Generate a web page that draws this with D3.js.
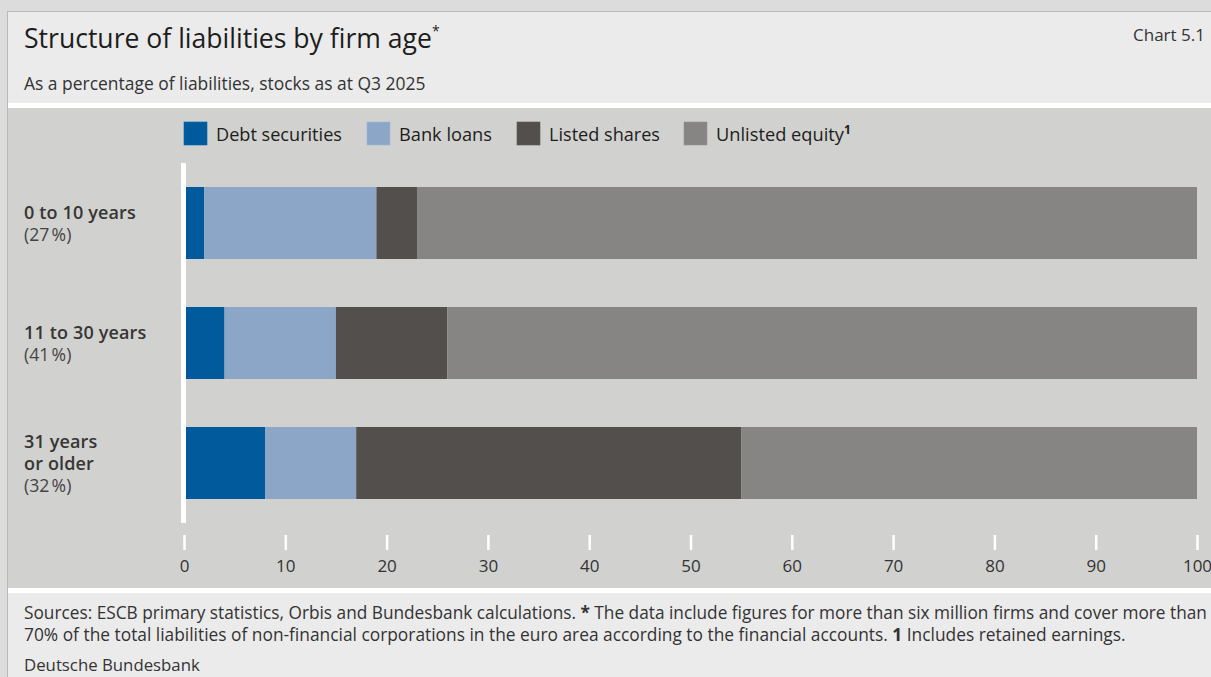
<!DOCTYPE html>
<html>
<head>
<meta charset="utf-8">
<script src="https://cdn.jsdelivr.net/npm/d3@7"></script>
<style>
  html, body { margin: 0; padding: 0; background: #dcdcdc; }
  svg { display: block; font-family: "Open Sans", "Noto Sans", sans-serif; }
</style>
</head>
<body>
<svg id="chart" width="1211" height="677"></svg>
<script>
// Age groups and their share of total liabilities
const categories = ["0 to 10 years", "11 to 30 years", "31 years or older"];
const categoryLines = [["0 to 10 years"], ["11 to 30 years"], ["31 years", "or older"]];
const categoryShares = ["(27\u202F%)", "(41\u202F%)", "(32\u202F%)"];

// Liability components, % of each group's liabilities
const seriesNames = ["Debt securities", "Bank loans", "Listed shares", "Unlisted equity"];
const debtSecurities = [2, 4, 8];
const bankLoans = [17, 11, 9];
const listedShares = [4, 11, 38];
const unlistedEquity = [77, 74, 45];

const tickValues = [0, 10, 20, 30, 40, 50, 60, 70, 80, 90, 100];
const colors = ["#005a9b", "#8ca6c8", "#524f4c", "#868583"];

const svg = d3.select("#chart");
const W = 1211, H = 677;

// Scale a text's font size so that it spans the given width
function fitWidth(sel, target) {
  const node = sel.node();
  const w = node.getComputedTextLength();
  const fs = parseFloat(sel.attr("font-size"));
  if (w > 0) sel.attr("font-size", (fs * target / w).toFixed(2));
  return sel;
}

// Panel backgrounds
svg.append("rect").attr("x", 0).attr("y", 0).attr("width", W).attr("height", H).attr("fill", "#dcdcdc");
svg.append("rect").attr("x", 7.5).attr("y", 11.5).attr("width", W).attr("height", H)
  .attr("fill", "#ebebeb").attr("stroke", "#b9b9b9").attr("stroke-width", 1);
svg.append("rect").attr("x", 8).attr("y", 103).attr("width", W).attr("height", 490).attr("fill", "#ffffff");
svg.append("rect").attr("x", 8).attr("y", 108).attr("width", W).attr("height", 480).attr("fill", "#d1d1cf");

// Title block
const title = svg.append("text").attr("x", 24).attr("y", 48)
  .attr("fill", "#1d1d1b").attr("font-size", 25);
title.append("tspan").text("Structure of liabilities by firm age");
fitWidth(title, 408);
title.append("tspan").attr("dy", -12).attr("font-size", 14).text("*");

fitWidth(svg.append("text").attr("x", 1205).attr("y", 41).attr("text-anchor", "end")
  .attr("fill", "#333").attr("font-size", 17).text("Chart 5.1"), 72);
fitWidth(svg.append("text").attr("x", 24).attr("y", 90).attr("fill", "#333")
  .attr("font-size", 17).text("As a percentage of liabilities, stocks as at Q3 2025"), 402);

// Scales
const x = d3.scaleLinear().domain([0, 100]).range([184, 1197]);
const y = d3.scaleBand().domain(categories).range([163, 523]).paddingInner(0.4).paddingOuter(0.2);

// Stack data
const rows = categories.map((c, i) => ({
  category: c,
  "Debt securities": debtSecurities[i],
  "Bank loans": bankLoans[i],
  "Listed shares": listedShares[i],
  "Unlisted equity": unlistedEquity[i]
}));
const stacked = d3.stack().keys(seriesNames)(rows);

const layers = svg.append("g").selectAll("g").data(stacked).join("g")
  .attr("fill", (d, i) => colors[i]);
layers.selectAll("rect").data(d => d).join("rect")
  .attr("x", d => x(d[0]))
  .attr("width", d => x(d[1]) - x(d[0]))
  .attr("y", d => y(d.data.category))
  .attr("height", y.bandwidth());

// Vertical baseline at zero
svg.append("rect").attr("x", 181).attr("y", 163).attr("width", 5).attr("height", 360).attr("fill", "#ffffff");

// Category labels: name in medium weight, share below in regular
const labelSize = 18;
categories.forEach((c, i) => {
  const lines = categoryLines[i];
  const center = y(c) + y.bandwidth() / 2;
  const n = lines.length + 1;
  const lh = 22;
  const first = center - (n - 1) * lh / 2 + 7;
  lines.forEach((l, k) => {
    svg.append("text").attr("x", 24).attr("y", first + k * lh)
      .attr("font-size", labelSize).attr("font-weight", 600).attr("fill", "#363634")
      .attr("letter-spacing", 0.15).text(l);
  });
  svg.append("text").attr("x", 24).attr("y", first + lines.length * lh)
    .attr("font-size", 17.6).attr("font-weight", 400).attr("fill", "#444")
    .text(categoryShares[i]);
});

// X axis
const axis = d3.axisBottom(x).tickValues(tickValues).tickSize(15).tickPadding(10).tickFormat(d3.format("d"));
const ax = svg.append("g").attr("transform", "translate(0,535)").call(axis);
ax.select(".domain").remove();
ax.selectAll(".tick line").attr("stroke", "#ffffff").attr("stroke-width", 2.5);
ax.selectAll(".tick text").attr("fill", "#333").attr("font-size", 17)
  .attr("font-family", "'Open Sans', 'Noto Sans', sans-serif").attr("font-weight", 400);

// Legend
const legendX = [184, 367, 517, 684];
const legendW = [126, 93, 111, 128];
const legend = svg.append("g");
seriesNames.forEach((s, i) => {
  legend.append("rect").attr("x", legendX[i]).attr("y", 122).attr("width", 23).attr("height", 23)
    .attr("fill", colors[i]).attr("stroke", d3.color(colors[i]).brighter(0.3)).attr("stroke-width", 0.6);
  const t = legend.append("text").attr("x", legendX[i] + 32).attr("y", 141)
    .attr("font-size", 18).attr("fill", "#1d1d1b");
  t.append("tspan").text(s);
  fitWidth(t, legendW[i]);
  if (s === "Unlisted equity") {
    t.append("tspan").attr("dy", -7).attr("font-size", 12).attr("font-weight", 700).text("1");
  }
});

// Footnotes
const fn = svg.append("g").attr("fill", "#333").attr("font-weight", 400);
const l1 = fn.append("text").attr("x", 24).attr("y", 619).attr("font-size", 16);
l1.append("tspan").text("Sources: ESCB primary statistics, Orbis and Bundesbank calculations. ");
l1.append("tspan").attr("font-weight", 700).text("*");
l1.append("tspan").text(" The data include figures for more than six million firms and cover more than");
fitWidth(l1, 1183);
const l2 = fn.append("text").attr("x", 24).attr("y", 641).attr("font-size", 16);
l2.append("tspan").text("70% of the total liabilities of non-financial corporations in the euro area according to the financial accounts. ");
l2.append("tspan").attr("font-weight", 700).text("1");
l2.append("tspan").text(" Includes retained earnings.");
fitWidth(l2, 1102);
fitWidth(fn.append("text").attr("x", 24).attr("y", 671).attr("font-size", 16).text("Deutsche Bundesbank"), 176);
</script>
</body>
</html>
